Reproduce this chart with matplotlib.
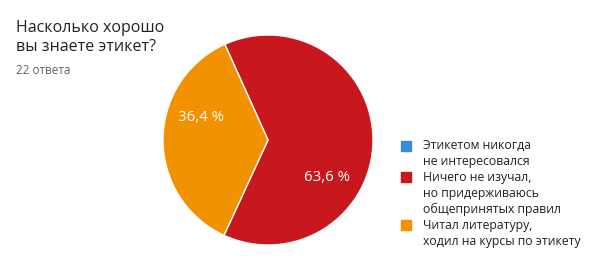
import matplotlib
matplotlib.use("Agg")
import numpy as np
from matplotlib import pyplot as plt
from matplotlib.patches import Rectangle

plt.rcParams['font.family'] = ['Open Sans', 'DejaVu Sans']

title = "Насколько хорошо\nвы знаете этикет?"
subtitle = "22 ответа"
labels = ["Этикетом никогда\nне интересовался",
          "Ничего не изучал,\nно придерживаюсь\nобщепринятых правил",
          "Читал литературу,\nходил на курсы по этикету"]
counts = [0, 14, 8]
colors = ["#3b8bd6", "#c8171d", "#f29200"]

W, H = 591, 259
fig = plt.figure(figsize=(W / 100, H / 100), dpi=100)

# пирог: центр (268,140) px, радиус 105 px
cx, cy, r = 268, 140, 105
ax = fig.add_axes([(cx - r) / W, (H - cy - r) / H, 2 * r / W, 2 * r / H])

def fmt(p):
    return "" if p == 0 else ("%.1f %%" % p).replace(".", ",")

wedges, texts, autotexts = ax.pie(counts, colors=colors, startangle=114.3, counterclock=False,
                                  autopct=fmt, pctdistance=0.66,
                                  wedgeprops=dict(edgecolor="white", linewidth=1))
# подписи ставим как в Google Forms (примерно 0.64 сектора по часовой)
for w, t in zip(wedges, autotexts):
    a = np.radians(w.theta2 - 0.64 * (w.theta2 - w.theta1))
    t.set_position((0.67 * np.cos(a), 0.67 * np.sin(a)))
    t.set_color("white")
    t.set_fontsize(10.8)
ax.set_xlim(-1, 1)
ax.set_ylim(-1, 1)
ax.set_aspect("equal")

# заголовок
fig.text(16 / W, 1 - 20 / H, title, fontsize=11.5, color="#202124", va="top", ha="left",
         linespacing=1.25)
fig.text(16 / W, 1 - 64 / H, subtitle, fontsize=8.5, color="#5f6368", va="top", ha="left")

# легенда
y = 146
for lab, col in zip(labels, colors):
    n = lab.count("\n") + 1
    fig.patches.append(Rectangle((401 / W, 1 - (y + 4.5) / H), 10 / W, 10 / H,
                                 transform=fig.transFigure, color=col))
    fig.text(423 / W, 1 - (y - 7) / H, lab, fontsize=8.8, color="#202124", va="top",
             ha="left", linespacing=1.32)
    y += 16.5 * n - 1.5

fig.savefig("out.png", dpi=100)
